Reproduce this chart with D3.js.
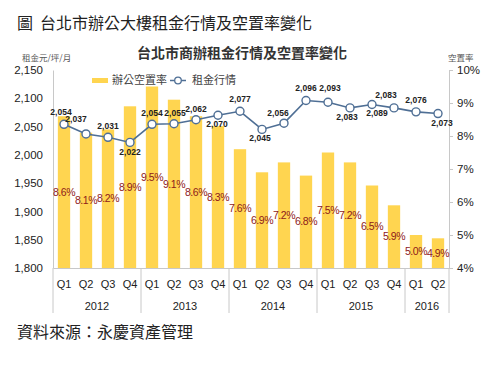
<!DOCTYPE html>
<html><head><meta charset="utf-8">
<script src="https://cdn.jsdelivr.net/npm/d3@7"></script>
<style>
body{margin:0;background:#fff;}
svg{display:block;}
</style></head>
<body>
<svg id="c" width="494" height="372"></svg>
<script>
const quarters = ["Q1","Q2","Q3","Q4","Q1","Q2","Q3","Q4","Q1","Q2","Q3","Q4","Q1","Q2","Q3","Q4","Q1","Q2"];
const years = ["2012","2013","2014","2015","2016"];
const yearQuarterCounts = [4,4,4,4,2];
const vacancy = [8.6,8.1,8.2,8.9,9.5,9.1,8.6,8.3,7.6,6.9,7.2,6.8,7.5,7.2,6.5,5.9,5.0,4.9];
const rent = [2054,2037,2031,2022,2054,2055,2062,2070,2077,2045,2056,2096,2093,2083,2089,2083,2076,2073];
const rentTicks = [1800,1850,1900,1950,2000,2050,2100,2150];
const vacancyTicks = [4,5,6,7,8,9,10];
// label placement offsets for rent labels [dx, dy]
const rentLabelOffset = [[-3,-12.5],[-10,-15],[0,-11],[0,10],[0,-11],[1,-11],[0,-11],[-1,9],[0,-12],[-2,9],[-6,-10],[0,-12.5],[2,-14],[-3,9],[5,9],[-8,-12.5],[0,-11.5],[4,9]];

const svg = d3.select("#c");
const NUM = "'Liberation Sans', Arial, sans-serif";
const CJK = "'Noto Sans CJK TC', 'Noto Sans CJK SC', sans-serif";
const L = 53, R = 449, T = 70, B = 268;

const x = d3.scaleBand().domain(d3.range(quarters.length)).range([L,R]).paddingInner(0.44).paddingOuter(0.22);
const yL = d3.scaleLinear().domain([1800,2150]).range([B,T]);
const yR = d3.scaleLinear().domain([4,10]).range([B,T]);
const cx = i => x(i) + x.bandwidth()/2;

// page title
svg.append("text").attr("x",17).attr("y",29).attr("font-family",CJK).attr("font-size",16).attr("fill","#222").text("圖");
svg.append("text").attr("x",40).attr("y",29).attr("font-family",CJK).attr("font-size",16).attr("fill","#222")
  .text("台北市辦公大樓租金行情及空置率變化");
// chart title
svg.append("text").attr("x",242).attr("y",58).attr("text-anchor","middle").attr("font-family",CJK)
  .attr("font-weight","bold").attr("font-size",14).attr("fill","#333").text("台北市商辦租金行情及空置率變化");
// unit labels
svg.append("text").attr("x",22).attr("y",61).attr("font-family",CJK).attr("font-size",8.5).attr("fill","#555").text("租金元/坪/月");
svg.append("text").attr("x",448).attr("y",61).attr("font-family",CJK).attr("font-size",8.5).attr("fill","#555").text("空置率");

// bars
svg.append("g").selectAll("rect").data(vacancy).join("rect")
  .attr("x",(d,i)=>x(i)).attr("width",x.bandwidth())
  .attr("y",d=>yR(d)).attr("height",d=>B-yR(d)).attr("fill","#FFD550");

// axes
const axL = svg.append("g").attr("transform",`translate(${L},0)`)
  .call(d3.axisLeft(yL).tickValues(rentTicks).tickSize(0).tickPadding(10).tickFormat(d3.format(",")));
axL.select(".domain").attr("stroke","#c8c8c8");
axL.selectAll("text").attr("font-family",NUM).attr("font-size",11.5).attr("fill","#222");

const axR = svg.append("g").attr("transform",`translate(${R},0)`)
  .call(d3.axisRight(yR).tickValues(vacancyTicks).tickSize(4).tickPadding(4).tickSizeOuter(0).tickFormat(d=>d+"%"));
axR.select(".domain").attr("stroke","#c8c8c8");
axR.selectAll(".tick line").attr("stroke","#c8c8c8");
axR.selectAll("text").attr("font-family",NUM).attr("font-size",11.5).attr("fill","#222");

const axB = svg.append("g").attr("transform",`translate(0,${B})`)
  .call(d3.axisBottom(x).tickSize(0).tickPadding(12).tickFormat(i=>quarters[i]));
axB.select(".domain").attr("stroke","#c8c8c8");
axB.selectAll("text").attr("font-family",NUM).attr("font-size",11).attr("fill","#222");

// year separators and labels
let starts = [0];
yearQuarterCounts.forEach((c,k)=>starts.push(starts[k]+c));
const sepX = k => L + starts[k]*x.step();
svg.append("g").selectAll("line").data(starts).join("line")
  .attr("x1",(d,k)=>sepX(k)).attr("x2",(d,k)=>sepX(k)).attr("y1",B).attr("y2",313)
  .attr("stroke","#c8c8c8");
svg.append("g").selectAll("text").data(years).join("text")
  .attr("x",(d,k)=>(sepX(k)+sepX(k+1))/2).attr("y",306).attr("dy","0.35em")
  .attr("text-anchor","middle").attr("font-family",NUM).attr("font-size",11).attr("fill","#222").text(d=>d);

// vacancy labels
svg.append("g").selectAll("text").data(vacancy).join("text")
  .attr("x",(d,i)=>cx(i)).attr("y",d=>(yR(d)+B)/2).attr("dy","0.35em").attr("text-anchor","middle")
  .attr("font-family",NUM).attr("font-size",10.5).attr("letter-spacing","-0.5px")
  .attr("fill","#8e1a1a").text(d=>d.toFixed(1)+"%");

// rent line
svg.append("path").datum(rent).attr("fill","none").attr("stroke","#4f6f95").attr("stroke-width",1.6)
  .attr("d",d3.line().x((d,i)=>cx(i)).y(d=>yL(d)));
svg.append("g").selectAll("circle").data(rent).join("circle")
  .attr("cx",(d,i)=>cx(i)).attr("cy",d=>yL(d)).attr("r",4)
  .attr("fill","#fff").attr("stroke","#4f6f95").attr("stroke-width",1.4);
svg.append("g").selectAll("text").data(rent).join("text")
  .attr("x",(d,i)=>cx(i)+rentLabelOffset[i][0]).attr("y",(d,i)=>yL(d)+rentLabelOffset[i][1]).attr("dy","0.35em")
  .attr("text-anchor","middle").attr("font-family",NUM).attr("font-weight","bold").attr("font-size",8.5)
  .attr("fill","#222").text(d=>d3.format(",")(d));

// legend
const lg = svg.append("g");
lg.append("rect").attr("x",92).attr("y",78).attr("width",16).attr("height",5).attr("fill","#FFD550");
lg.append("text").attr("x",112).attr("y",80.5).attr("dy","0.35em").attr("font-family",CJK).attr("font-size",11).attr("fill","#444").text("辦公空置率");
lg.append("line").attr("x1",170).attr("x2",186).attr("y1",80.5).attr("y2",80.5).attr("stroke","#4f6f95").attr("stroke-width",1.5);
lg.append("circle").attr("cx",178).attr("cy",80.5).attr("r",3.3).attr("fill","#fff").attr("stroke","#4f6f95").attr("stroke-width",1.3);
lg.append("text").attr("x",192).attr("y",80.5).attr("dy","0.35em").attr("font-family",CJK).attr("font-size",11).attr("fill","#444").text("租金行情");

// source
svg.append("text").attr("x",17).attr("y",338).attr("font-family",CJK).attr("font-size",16).attr("fill","#222").text("資料來源：永慶資產管理");
</script>
</body></html>
